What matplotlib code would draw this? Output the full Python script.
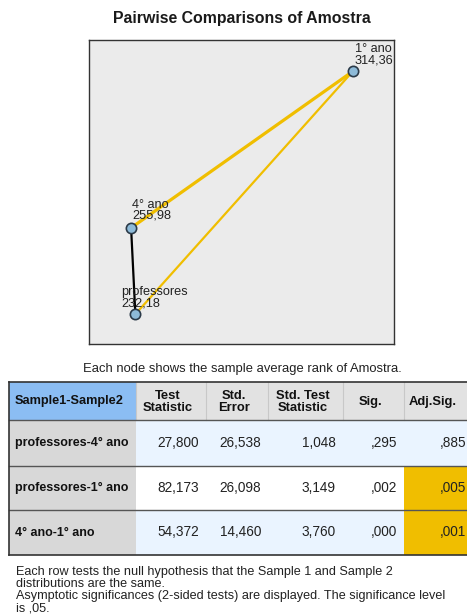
import matplotlib
matplotlib.use("Agg")
import matplotlib.pyplot as plt
from matplotlib.patches import Rectangle

plt.rcParams['font.family'] = ['Liberation Sans', 'DejaVu Sans']

W, H = 467, 615

# mean ranks per group
groups = ['1° ano', '4° ano', 'professores']
mean_rank = [314.36, 255.98, 232.18]

# pairwise comparisons (Dunn test)
pairs = [('professores', '4° ano'), ('professores', '1° ano'), ('4° ano', '1° ano')]
test_stat = [27.800, 82.173, 54.372]
std_error = [26.538, 26.098, 14.460]
std_test_stat = [1.048, 3.149, 3.760]
sig = [0.295, 0.002, 0.000]
adj_sig = [0.885, 0.005, 0.001]
alpha = 0.05

headers = ['Sample1-Sample2', 'Test\nStatistic', 'Std.\nError',
           'Std. Test\nStatistic', 'Sig.', 'Adj.Sig.']

# node layout inside the graph box (axes fractions) and label offsets in px
node_xy = {'1° ano': (0.865, 0.897), '4° ano': (0.138, 0.382), 'professores': (0.152, 0.098)}
label_off = {'1° ano': (2, 5), '4° ano': (1, 6), 'professores': (-14, 5)}

GOLD = '#F0BE00'


def fmt(v, lead_zero=True):
    s = f'{v:.3f}'.replace('.', ',')
    if not lead_zero and s.startswith('0'):
        s = s[1:]
    return s


fig = plt.figure(figsize=(W / 100, H / 100), dpi=100)
fig.patch.set_facecolor('white')

fig.text(242 / W, 1 - 18 / H, 'Pairwise Comparisons of Amostra', ha='center', va='center',
         fontsize=11.4, fontweight='bold', color='#1a1a1a')

# graph of the groups
gx0, gy0, gx1, gy1 = 89, 40, 394, 344
ax = fig.add_axes([gx0 / W, 1 - gy1 / H, (gx1 - gx0) / W, (gy1 - gy0) / H])
ax.set_facecolor('#EBEBEB')
ax.set_xlim(0, 1)
ax.set_ylim(0, 1)
ax.set_xticks([])
ax.set_yticks([])
for sp in ax.spines.values():
    sp.set_color('#333333')
    sp.set_linewidth(1.0)

for (a, b), p in zip(pairs, adj_sig):
    xa, ya = node_xy[a]
    xb, yb = node_xy[b]
    if p < alpha:
        lw = 2.3 if abs(ya - yb) < 0.7 else 1.6
        ax.plot([xa, xb], [ya, yb], color=GOLD, lw=lw, zorder=2, solid_capstyle='round')
    else:
        ax.plot([xa, xb], [ya, yb], color='black', lw=1.6, zorder=2)

for g, r in zip(groups, mean_rank):
    x, y = node_xy[g]
    ax.scatter([x], [y], s=55, facecolor='#8DBAD8', edgecolor='#2B3A48', linewidth=1.2, zorder=3)
    dx, dy = label_off[g]
    ax.annotate(f'{g}\n{r:.2f}'.replace('.', ','), (x, y), xytext=(dx * 0.72, dy * 0.72),
                textcoords='offset points', ha='left', va='bottom', fontsize=9.2,
                color='#222222', linespacing=0.9, zorder=4)

fig.text(242 / W, 1 - 369 / H, 'Each node shows the sample average rank of Amostra.',
         ha='center', va='center', fontsize=9.4, color='#222222')

# table drawn in pixel coordinates
tx = fig.add_axes([0, 0, 1, 1])
tx.set_xlim(0, W)
tx.set_ylim(H, 0)
tx.axis('off')

col_edges = [9, 136, 206, 268, 343, 404, 476]
row_edges = [382, 420, 466, 510, 555]
row_colors = ['#EAF4FF', 'white', '#EAF4FF']

for j in range(6):
    x0, x1 = col_edges[j], col_edges[j + 1]
    fc = '#8BBDF3' if j == 0 else '#E2E2E2'
    tx.add_patch(Rectangle((x0, row_edges[0]), x1 - x0, row_edges[1] - row_edges[0],
                           facecolor=fc, edgecolor='none'))
    if j == 0:
        tx.text(15, (row_edges[0] + row_edges[1]) / 2, headers[j], ha='left', va='center',
                fontsize=9.2, fontweight='bold', color='#111111')
    else:
        cx = (x0 + min(x1, W)) / 2 - 3
        tx.text(cx, (row_edges[0] + row_edges[1]) / 2 + 1, headers[j], ha='center', va='center',
                fontsize=9.4, fontweight='bold', color='#111111', linespacing=1.05)

for i in range(3):
    y0, y1 = row_edges[i + 1], row_edges[i + 2]
    cy = (y0 + y1) / 2
    tx.add_patch(Rectangle((col_edges[0], y0), col_edges[1] - col_edges[0], y1 - y0,
                           facecolor='#D8D8D8', edgecolor='none'))
    tx.add_patch(Rectangle((col_edges[1], y0), col_edges[-1] - col_edges[1], y1 - y0,
                           facecolor=row_colors[i], edgecolor='none'))
    if adj_sig[i] < alpha:
        tx.add_patch(Rectangle((col_edges[5], y0), col_edges[6] - col_edges[5], y1 - y0,
                               facecolor=GOLD, edgecolor='none'))
    a, b = pairs[i]
    tx.text(15, cy, f'{a}-{b}', ha='left', va='center', fontsize=9.0,
            fontweight='bold', color='#111111')
    vals = [fmt(test_stat[i]), fmt(std_error[i]), fmt(std_test_stat[i]),
            fmt(sig[i], False), fmt(adj_sig[i], False)]
    for j, v in enumerate(vals):
        right = min(col_edges[j + 2] - 7, W - 1)
        tx.text(right, cy, v, ha='right', va='center', fontsize=9.8, color='#222222')

# faint header separators and row rules
for x in col_edges[1:-1]:
    tx.plot([x, x], [row_edges[0], row_edges[1]], color='#C8C8C8', lw=0.8)
for y in row_edges[1:-1]:
    tx.plot([col_edges[0], W], [y, y], color='#555555', lw=1.0)
tx.plot([col_edges[0], W], [row_edges[0], row_edges[0]], color='#333333', lw=1.2)
tx.plot([col_edges[0], W], [row_edges[-1], row_edges[-1]], color='#333333', lw=1.2)
tx.plot([col_edges[0], col_edges[0]], [row_edges[0], row_edges[-1]], color='#333333', lw=1.2)

notes = ('Each row tests the null hypothesis that the Sample 1 and Sample 2\n'
         'distributions are the same.\n'
         'Asymptotic significances (2-sided tests) are displayed. The significance level\n'
         'is ,05.')
tx.text(16, 566, notes, ha='left', va='top', fontsize=9.1, color='#222222', linespacing=1.02)

fig.savefig('out.png', dpi=100)
